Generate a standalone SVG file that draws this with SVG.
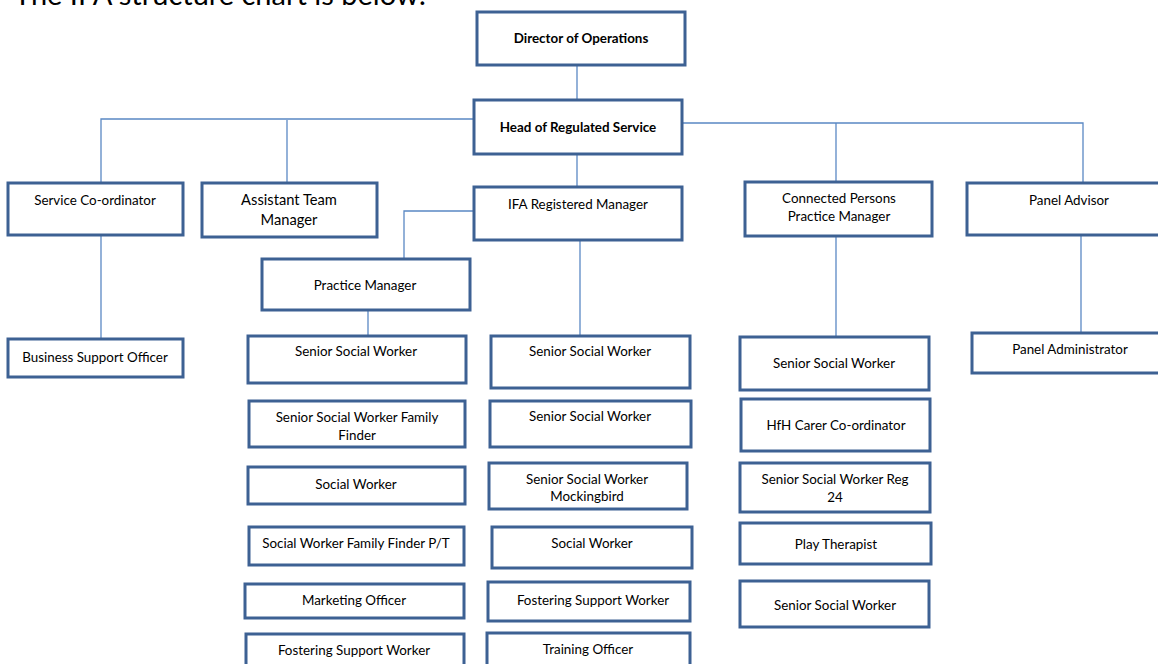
<svg xmlns="http://www.w3.org/2000/svg" width="1158" height="664" viewBox="0 0 1158 664">
<style>
.box{fill:#fff;stroke:#3D6193;stroke-width:3}
.t{font-family:Lato,"Liberation Sans",sans-serif;font-size:13.4px;fill:#000;text-anchor:middle}
.b{font-weight:bold;font-size:13.4px}
.c{fill:none;stroke:#5A88C4;stroke-width:1.3}
.title{font-family:Lato,"Liberation Sans",sans-serif;font-size:29px;fill:#000}
</style>
<rect width="1158" height="664" fill="#fff"/>
<text class="title" x="14" y="5">The IFA structure chart is below:</text>
<g id="connectors">
<path class="c" d="M577 65V100"/>
<path class="c" d="M474 119H101V183"/>
<path class="c" d="M287 120V183"/>
<path class="c" d="M682 123H1083V183"/>
<path class="c" d="M836 123V182"/>
<path class="c" d="M577 154V187"/>
<path class="c" d="M101 235V339"/>
<path class="c" d="M474 211H404V259"/>
<path class="c" d="M368 310V336"/>
<path class="c" d="M580 240V335"/>
<path class="c" d="M836 236V337"/>
<path class="c" d="M1081 235V333"/>
</g>
<g id="director"><rect class="box" x="477" y="12" width="208" height="53"/><text class="t b" x="581" y="43">Director of Operations</text></g>
<g id="head"><rect class="box" x="474" y="100" width="208" height="54"/><text class="t b" x="578" y="132">Head of Regulated Service</text></g>
<g id="ifa"><rect class="box" x="474" y="187" width="208" height="53"/><text class="t" x="578" y="209">IFA Registered Manager</text></g>
<g id="service-coord"><rect class="box" x="8" y="183" width="175" height="52"/><text class="t" x="95" y="205">Service Co-ordinator</text></g>
<g id="assistant-tm"><rect class="box" x="202" y="183" width="175" height="54"/><text class="t" x="289" y="205" style="font-size:14.7px">Assistant Team</text><text class="t" x="289" y="225" style="font-size:14.7px">Manager</text></g>
<g id="connected-pm"><rect class="box" x="745" y="182" width="187" height="54"/><text class="t" x="839" y="203">Connected Persons</text><text class="t" x="839" y="221">Practice Manager</text></g>
<g id="panel-advisor"><rect class="box" x="967" y="183" width="195" height="52"/><text class="t" x="1069" y="205">Panel Advisor</text></g>
<g id="business-support"><rect class="box" x="8" y="339" width="175" height="38"/><text class="t" x="95" y="362">Business Support Officer</text></g>
<g id="practice-manager"><rect class="box" x="262" y="259" width="208" height="51"/><text class="t" x="365" y="290">Practice Manager</text></g>
<g id="panel-admin"><rect class="box" x="972" y="333" width="190" height="40"/><text class="t" x="1070" y="354">Panel Administrator</text></g>

<g id="l1"><rect class="box" x="248" y="336" width="218" height="47"/><text class="t" x="356" y="356">Senior Social Worker</text></g>
<g id="l2"><rect class="box" x="249" y="401" width="216" height="46"/><text class="t" x="357" y="422">Senior Social Worker Family</text><text class="t" x="357" y="440">Finder</text></g>
<g id="l3"><rect class="box" x="248" y="467" width="217" height="37"/><text class="t" x="356" y="489">Social Worker</text></g>
<g id="l4"><rect class="box" x="249" y="527" width="215" height="38"/><text class="t" x="356" y="548">Social Worker Family Finder P/T</text></g>
<g id="l5"><rect class="box" x="245" y="584" width="219" height="34"/><text class="t" x="354" y="605">Marketing Officer</text></g>
<g id="l6"><rect class="box" x="246" y="634" width="218" height="40"/><text class="t" x="354" y="655">Fostering Support Worker</text></g>

<g id="m1"><rect class="box" x="491" y="336" width="199" height="52"/><text class="t" x="590" y="356">Senior Social Worker</text></g>
<g id="m2"><rect class="box" x="490" y="401" width="201" height="46"/><text class="t" x="590" y="421">Senior Social Worker</text></g>
<g id="m3"><rect class="box" x="489" y="463" width="198" height="46"/><text class="t" x="587" y="484">Senior Social Worker</text><text class="t" x="587" y="501">Mockingbird</text></g>
<g id="m4"><rect class="box" x="492" y="527" width="200" height="41"/><text class="t" x="592" y="548">Social Worker</text></g>
<g id="m5"><rect class="box" x="488" y="582" width="202" height="39"/><text class="t" x="593" y="605">Fostering Support Worker</text></g>
<g id="m6"><rect class="box" x="487" y="633" width="203" height="40"/><text class="t" x="588" y="654">Training Officer</text></g>

<g id="r1"><rect class="box" x="740" y="337" width="189" height="53"/><text class="t" x="834" y="368">Senior Social Worker</text></g>
<g id="r2"><rect class="box" x="741" y="399" width="189" height="52"/><text class="t" x="836" y="430">HfH Carer Co-ordinator</text></g>
<g id="r3"><rect class="box" x="740" y="463" width="190" height="49"/><text class="t" x="835" y="484">Senior Social Worker Reg</text><text class="t" x="835" y="502">24</text></g>
<g id="r4"><rect class="box" x="740" y="523" width="191" height="41"/><text class="t" x="836" y="549">Play Therapist</text></g>
<g id="r5"><rect class="box" x="740" y="581" width="189" height="46"/><text class="t" x="835" y="610">Senior Social Worker</text></g>
</svg>
